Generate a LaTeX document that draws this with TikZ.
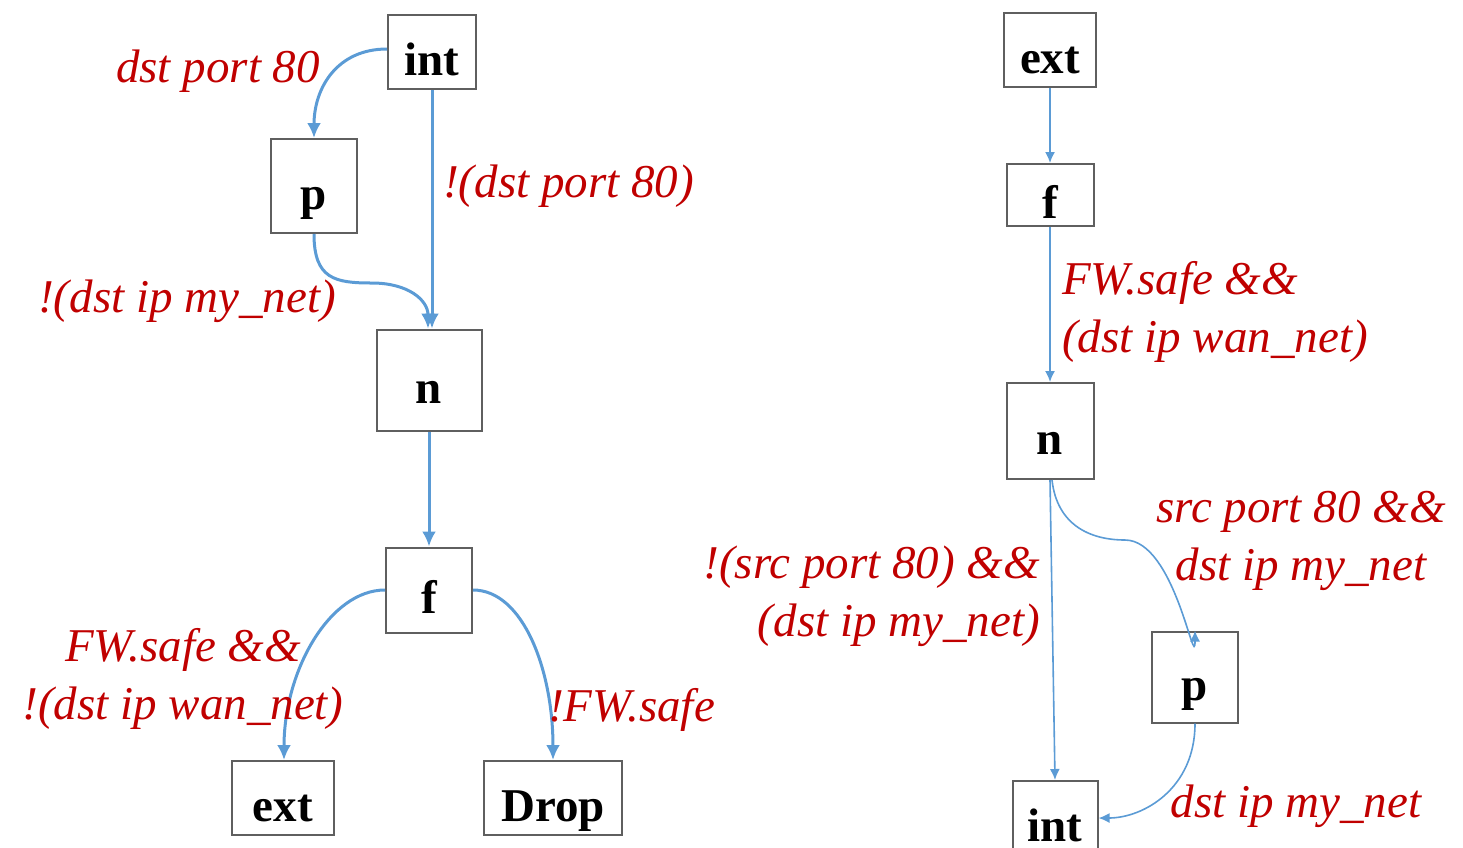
\documentclass[tikz,border=0pt]{standalone}
\usepackage{fontspec}
\setmainfont{Liberation Serif}
\usetikzlibrary{arrows.meta}
\definecolor{edgeblue}{RGB}{91,155,213}
\definecolor{lblred}{RGB}{192,0,0}
\definecolor{boxgray}{RGB}{95,95,95}
\tikzset{
  box/.style={draw=boxgray, line width=2pt, fill=white, inner sep=0pt,
    text height=46pt, text depth=0pt,
    font=\fontsize{47}{50}\selectfont\bfseries, text=black},
  lbl/.style={font=\fontsize{47}{58}\selectfont\itshape, text=lblred, inner sep=0pt},
  thick edge/.style={draw=edgeblue, line width=3pt, -{Latex[length=15pt,width=14pt]}},
  thin edge/.style={draw=edgeblue, line width=1.6pt, -{Latex[length=11pt,width=10pt]}},
}
\begin{document}
\begin{tikzpicture}[x=1pt,y=-1pt]
\useasboundingbox (0,0) rectangle (1463,847);
% left graph nodes
\node[box, minimum width=88pt, minimum height=74pt] (Lint) at (432,52) {int};
\node[box, minimum width=86pt, minimum height=94pt] (Lp) at (314,186) {p};
\node[box, minimum width=105pt, minimum height=101pt] (Ln) at (429,380) {n};
\node[box, minimum width=86pt, minimum height=85pt] (Lf) at (429,590) {f};
\node[box, minimum width=102pt, minimum height=74pt] (Lext) at (283,798) {ext};
\node[box, minimum width=138pt, minimum height=74pt] (Ldrop) at (553,798) {Drop};
% right graph nodes
\node[box, minimum width=92pt, minimum height=74pt] (Rext) at (1050,50) {ext};
\node[box, minimum width=87pt, minimum height=62pt] (Rf) at (1050,195) {f};
\node[box, minimum width=87pt, minimum height=96pt] (Rn) at (1050,431) {n};
\node[box, minimum width=86pt, minimum height=91pt] (Rp) at (1195,677) {p};
\node[box, minimum width=85pt, minimum height=74pt] (Rint) at (1055,818) {int};
% left edges
\draw[thick edge] ([yshift=3pt]Lint.west) .. controls +(-50,0) and +(0,-50) .. (Lp.north);
\draw[thick edge] (Lint.south) -- (Lint.south |- Ln.north);
\draw[thick edge] (Lp.south) .. controls +(0,45) and (335,283) .. (372,283)
   .. controls (408,283) and ([xshift=-1pt]Ln.north |- 0,300) .. ([xshift=-1pt]Ln.north);
\draw[thick edge] (Ln.south) -- (Lf.north);
\draw[thick edge] (Lf.west) .. controls +(-55,0) and +(0,-90) .. ([xshift=1pt]Lext.north);
\draw[thick edge] (Lf.east) .. controls +(50,0) and +(0,-90) .. (Ldrop.north);
% right edges
\draw[thin edge] (Rext.south) -- (Rf.north);
\draw[thin edge] (Rf.south) -- (Rn.north);
\draw[thin edge] (Rn.south) -- (Rint.north);
\draw[thin edge] ([xshift=2pt]Rn.south) .. controls +(5,45) and (1090,540) .. (1125,540)
   .. controls (1175,540) and ([yshift=-45pt]Rp.north) .. (Rp.north);
\draw[thin edge] (Rp.south) .. controls +(0,65) and +(45,0) .. (Rint.east);
% labels
\node[lbl] (l1) at (218,71) {dst port 80};
\node[lbl, anchor=west] (l2) at (443,186) {!(dst port 80)};
\node[lbl] (l3) at (187,301) {!(dst ip my\_net)};
\node[lbl, align=center] (l4) at (183,679) {FW.safe \&\&\\!(dst ip wan\_net)};
\node[lbl, anchor=west] (l5) at (548,710) {!FW.safe};
\node[lbl, anchor=west, align=left] (l6) at (1062,312) {FW.safe \&\&\\(dst ip wan\_net)};
\node[lbl, align=center] (l7) at (1301,541) {src port 80 \&\&\\dst ip my\_net};
\node[lbl, anchor=east, align=right] (l8) at (1040,596) {!(src port 80) \&\&\\(dst ip my\_net)};
\node[lbl] (l9) at (1296,806) {dst ip my\_net};
\end{tikzpicture}
\end{document}
